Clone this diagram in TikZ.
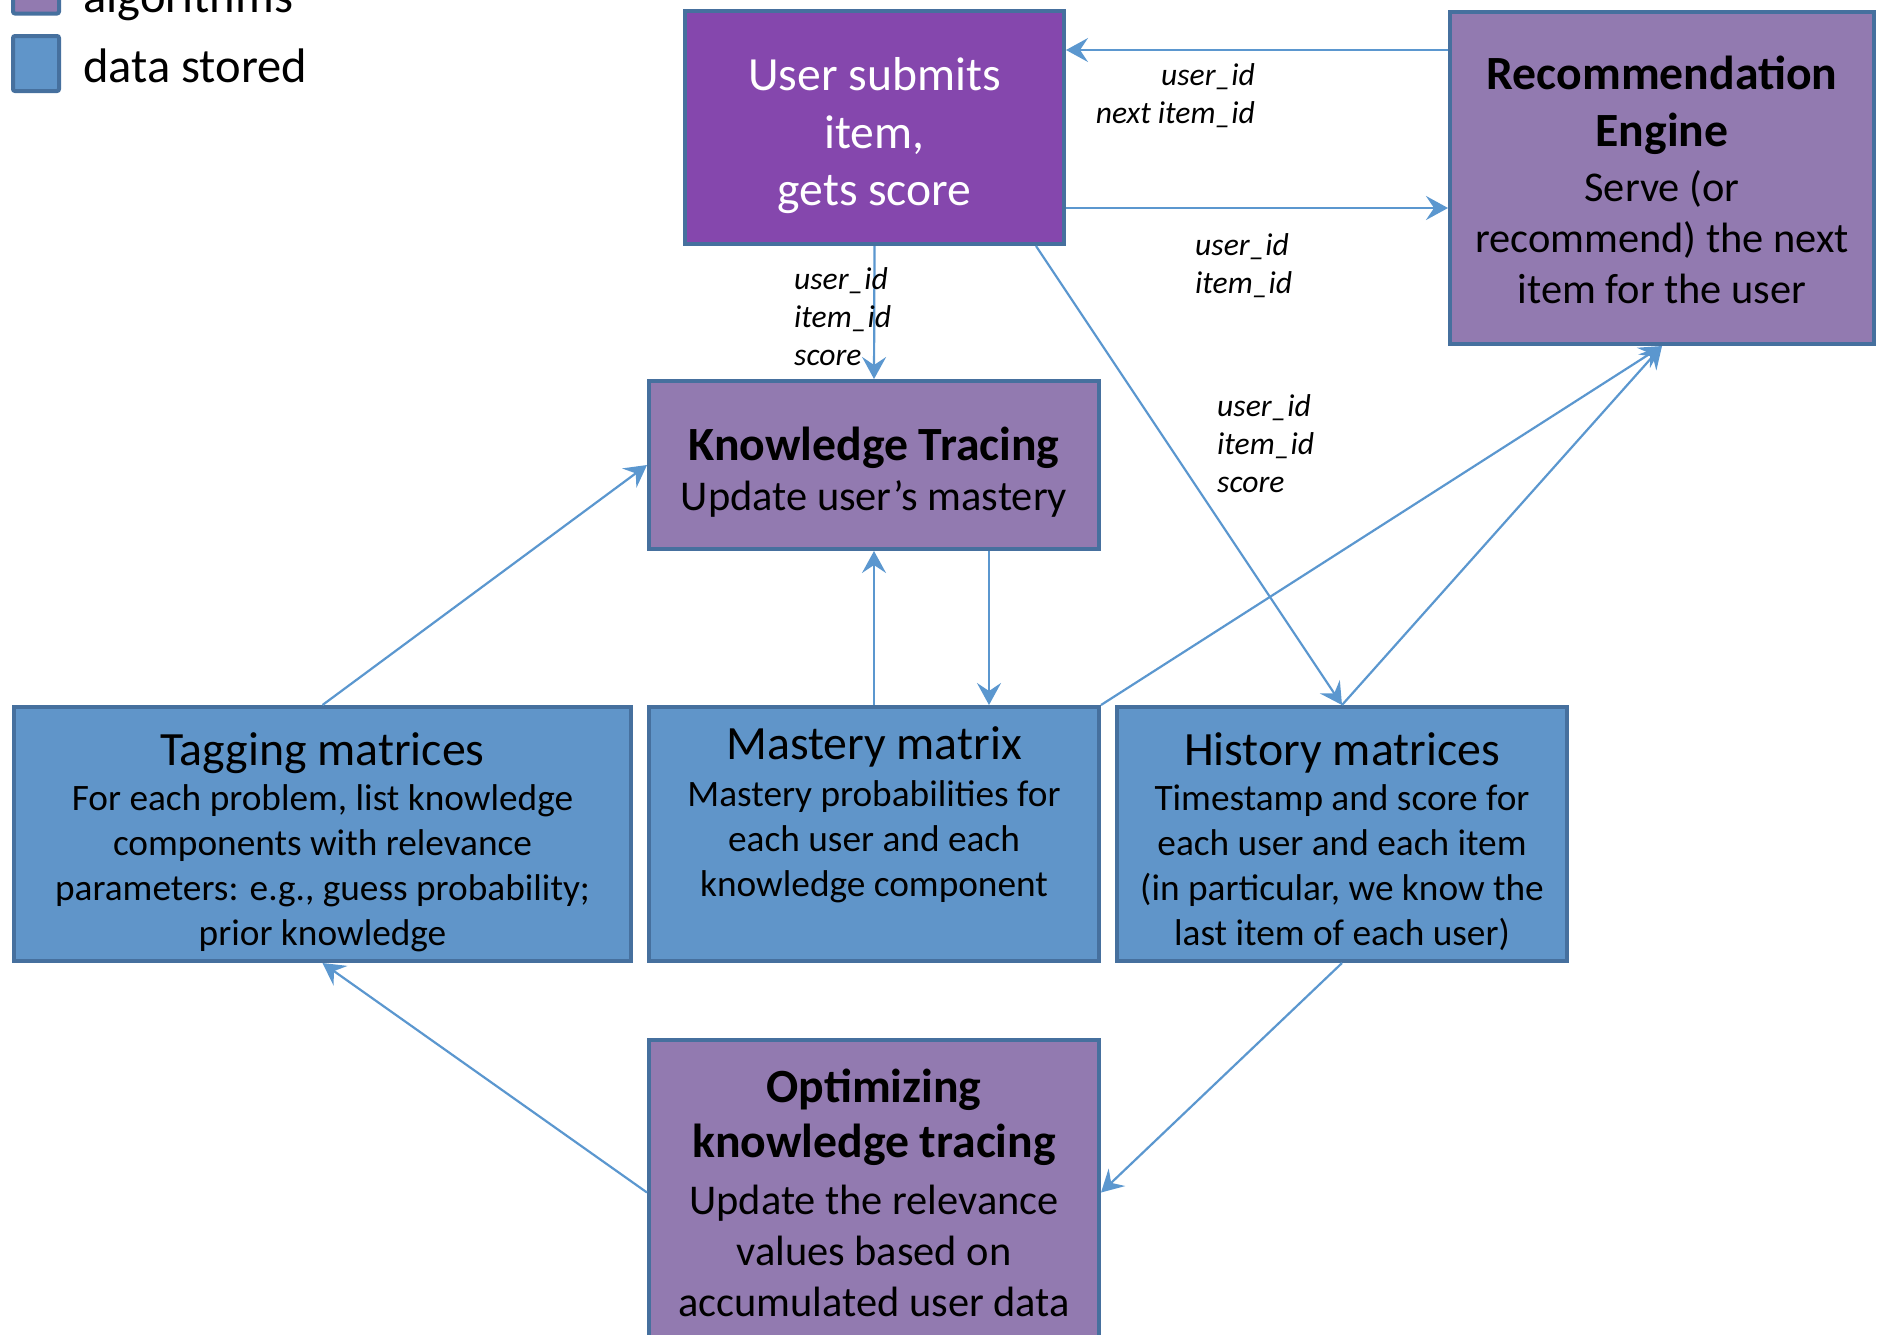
\documentclass[tikz,border=0pt]{standalone}
\usepackage{fontspec}
\setmainfont{Carlito}
\usetikzlibrary{arrows.meta}
\definecolor{algfill}{HTML}{927AB0}
\definecolor{userfill}{HTML}{8547AD}
\definecolor{datafill}{HTML}{6095C9}
\definecolor{bordercol}{HTML}{46709E}
\definecolor{linkcol}{HTML}{5B97CF}
\newcommand\boxtitle{\fontsize{47.7}{57}\selectfont\bfseries}
\newcommand\boxhead{\fontsize{47.8}{57}\selectfont}
\newcommand\pushdown[1]{\mbox{}\\[#1]}
\begin{document}
\begin{tikzpicture}[x=1pt,y=-1pt,
  box/.style={draw=bordercol, line width=4pt, inner sep=0pt, align=center, anchor=center},
  alg/.style={box, fill=algfill},
  data/.style={box, fill=datafill},
  link/.style={draw=linkcol, line width=2.2pt, -{Stealth[length=22pt,width=24pt,inset=8pt]}},
  lbl/.style={font=\fontsize{31.6}{38}\selectfont\itshape, inner sep=0pt},
  legtext/.style={anchor=base west, font=\fontsize{48.5}{58}\selectfont, inner sep=0pt},
]
\useasboundingbox (0,0) rectangle (1878,1334);

% legend
\node[alg, rounded corners=2pt, minimum width=46pt, minimum height=55pt] (legalg) at (36,-14) {};
\node[data, rounded corners=2pt, minimum width=46pt, minimum height=55pt] (legdata) at (36,63.5) {};
\node[legtext] (legalgt) at (83,12) {algorithms};
\node[legtext] (legdatat) at (83,82) {data stored};

% boxes
\node[box, fill=userfill, text=white, minimum width=379pt, minimum height=233pt,
      font=\fontsize{47.6}{57.5}\selectfont] (us) at (874.5,127.5)
  {\pushdown{-8pt}User submits\\item,\\gets score};
\node[alg, minimum width=424pt, minimum height=332pt, font=\fontsize{42.4}{51}\selectfont] (re) at (1662,178)
  {\pushdown{-14pt}{\boxtitle Recommendation}\\[6pt]{\boxtitle Engine}\\[4pt]Serve (or\\recommend) the next\\item for the user};
\node[alg, minimum width=450pt, minimum height=168pt, font=\fontsize{42.4}{51}\selectfont] (kt) at (874,465)
  {\pushdown{-4pt}{\boxtitle Knowledge Tracing}\\[-1pt]Update user’s mastery};
\node[data, minimum width=617pt, minimum height=254pt, font=\fontsize{37.3}{45}\selectfont] (tag) at (322.5,834)
  {\pushdown{4pt}{\boxhead Tagging matrices}\\[0pt]For each problem, list knowledge\\components with relevance\\parameters: e.g., guess probability;\\prior knowledge};
\node[data, minimum width=450pt, minimum height=254pt, font=\fontsize{37.3}{45}\selectfont] (mas) at (874,834)
  {{\boxhead Mastery matrix}\\[1.5pt]Mastery probabilities for\\each user and each\\knowledge component\\\mbox{}};
\node[data, minimum width=450pt, minimum height=254pt, font=\fontsize{37.3}{45}\selectfont] (his) at (1342,834)
  {\pushdown{4pt}{\boxhead History matrices}\\[0pt]Timestamp and score for\\each user and each item\\(in particular, we know the\\last item of each user)};
\node[alg, minimum width=450pt, minimum height=305pt, font=\fontsize{42.4}{51}\selectfont] (opt) at (874,1192.5)
  {{\boxtitle Optimizing}\\[4pt]{\boxtitle knowledge tracing}\\[6pt]Update the relevance\\values based on\\accumulated user data};

% connectors
\draw[link] (re.west |- 0,50) -- (us.east |- 0,50);
\draw[link] (us.east |- 0,208) -- (re.west |- 0,208);
\draw[link] (us.south) -- (kt.north);
\draw[link] (us.south -| 1036,0) -- (his.north);
\draw[link] (mas.north) -- (kt.south);
\draw[link] (kt.south -| 989,0) -- (mas.north -| 989,0);
\draw[link] (tag.north) -- (kt.west);
\draw[link] (mas.north east) -- (re.south);
\draw[link] (his.north) -- (re.south);
\draw[link] (his.south) -- (opt.east);
\draw[link] (opt.west) -- (tag.south);

% labels
\node[lbl, align=right, anchor=east] (l1) at (1255,96) {user\_id\\next item\_id};
\node[lbl, align=left, anchor=west] (l2) at (1195,266) {user\_id\\item\_id};
\node[lbl, align=left, anchor=west] (l3) at (794,317) {user\_id\\item\_id\\score};
\node[lbl, align=left, anchor=west] (l4) at (1217,444) {user\_id\\item\_id\\score};
\end{tikzpicture}
\end{document}
